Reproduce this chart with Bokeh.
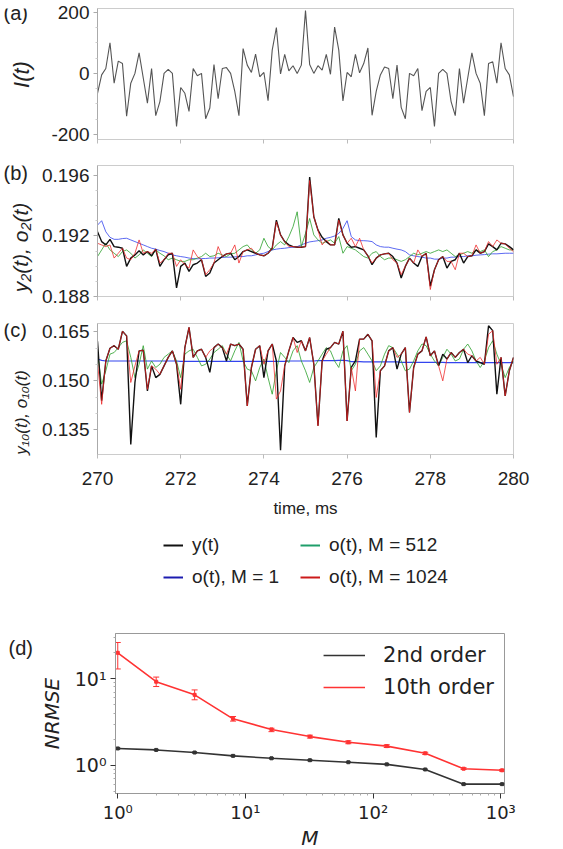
import math
from bokeh.plotting import figure
from bokeh.layouts import column, row
from bokeh.models import (ColumnDataSource, FixedTicker, NumeralTickFormatter,
                          Legend, LegendItem, Whisker, TeeHead, Range1d)
from bokeh.core.properties import value
from bokeh.embed import file_html
from bokeh.resources import INLINE

# ---------------- data ----------------
time_ms = [round(270 + 0.1 * i, 1) for i in range(101)]

I_t = [-65, -5, 16, 100, -32, 40, 32, -140, -32, 0,
       67, -15, -97, 16, -138, -92, 0, 13, 0, -173,
       -46, -65, -124, 16, -8, 0, -148, -113, 29, -83,
       16, 19, 0, -59, -138, 81, 27, 3, 63, -11,
       3, -89, 76, 150, -2, 62, 8, 25, 0, 27,
       205, 29, 0, 25, 11, 62, -3, 151, 76, -90,
       3, -11, 62, 2, 32, 83, -137, -59, -5, 21,
       16, -83, 27, -111, -148, 0, -8, 16, -122, -59,
       -46, -173, 0, 13, 0, -92, -138, 16, -97, -15,
       67, 0, -32, -138, 32, 38, -32, 100, 16, -5,
       -76]

y2 = [0.19228, 0.19163, 0.19141, 0.19178, 0.19130, 0.19126, 0.19119, 0.18999, 0.19054, 0.19075,
      0.19102, 0.19075, 0.19097, 0.19069, 0.19113, 0.18999, 0.19043, 0.19075, 0.19086, 0.18857,
      0.18999, 0.19021, 0.18966, 0.19010, 0.19021, 0.19043, 0.18933, 0.18955, 0.19021, 0.19043,
      0.19064, 0.19082, 0.19086, 0.19043, 0.19064, 0.19097, 0.19108, 0.19097, 0.19086, 0.19075,
      0.19069, 0.19086, 0.19119, 0.19305, 0.19207, 0.19163, 0.19141, 0.19130, 0.19126, 0.19126,
      0.19130, 0.19589, 0.19327, 0.19239, 0.19191, 0.19163, 0.19141, 0.19141, 0.19316, 0.19207,
      0.19152, 0.19126, 0.19130, 0.19119, 0.19108, 0.19069, 0.19010, 0.19054, 0.19075, 0.19082,
      0.19086, 0.19064, 0.19021, 0.18922, 0.18999, 0.19054, 0.19021, 0.18999, 0.19064, 0.19086,
      0.18868, 0.18977, 0.19043, 0.19064, 0.18988, 0.19032, 0.19043, 0.19086, 0.19021, 0.19064,
      0.19069, 0.19108, 0.19086, 0.19097, 0.19148, 0.19130, 0.19108, 0.19152, 0.19148, 0.19130,
      0.19108]

o2_M1024 = [0.19152, 0.19141, 0.19130, 0.19141, 0.19054, 0.19086, 0.19119, 0.19054, 0.19043, 0.19086,
            0.19174, 0.19086, 0.19097, 0.19086, 0.19113, 0.19021, 0.19043, 0.19086, 0.19086, 0.18999,
            0.19043, 0.19010, 0.18988, 0.19108, 0.19064, 0.19043, 0.18944, 0.18977, 0.19021, 0.19130,
            0.19064, 0.19082, 0.19086, 0.19141, 0.19021, 0.19097, 0.19108, 0.19119, 0.19086, 0.19075,
            0.19069, 0.19086, 0.19119, 0.19294, 0.19207, 0.19163, 0.19130, 0.19130, 0.19126, 0.19126,
            0.19130, 0.19567, 0.19327, 0.19239, 0.19141, 0.19174, 0.19141, 0.19141, 0.19305, 0.19207,
            0.19152, 0.19185, 0.19130, 0.19185, 0.19108, 0.19069, 0.19021, 0.19054, 0.19075, 0.19082,
            0.19086, 0.19043, 0.19021, 0.18944, 0.18999, 0.19054, 0.19021, 0.19108, 0.19064, 0.19086,
            0.18846, 0.18977, 0.19043, 0.19064, 0.19032, 0.19032, 0.18977, 0.19086, 0.19086, 0.19064,
            0.19069, 0.19141, 0.19086, 0.19097, 0.19163, 0.19130, 0.19174, 0.19152, 0.19148, 0.19119,
            0.19097]

o2_M512 = [0.19064, 0.19108, 0.19152, 0.19108, 0.19086, 0.19064, 0.19097, 0.19108, 0.19086, 0.19054,
           0.19075, 0.19108, 0.19086, 0.19064, 0.19108, 0.19086, 0.19069, 0.19043, 0.19054, 0.19043,
           0.19032, 0.19032, 0.19043, 0.19043, 0.19054, 0.19064, 0.19086, 0.19064, 0.19069, 0.19086,
           0.19075, 0.19064, 0.19082, 0.19086, 0.19108, 0.19130, 0.19141, 0.19108, 0.19086, 0.19108,
           0.19185, 0.19130, 0.19108, 0.19141, 0.19163, 0.19141, 0.19196, 0.19261, 0.19360, 0.19130,
           0.19217, 0.19316, 0.19207, 0.19174, 0.19152, 0.19163, 0.19174, 0.19152, 0.19196, 0.19086,
           0.19130, 0.19119, 0.19108, 0.19086, 0.19064, 0.19054, 0.19086, 0.19097, 0.19064, 0.19043,
           0.19054, 0.19054, 0.19043, 0.19032, 0.19043, 0.19064, 0.19086, 0.19075, 0.19086, 0.19097,
           0.19086, 0.19097, 0.19108, 0.19097, 0.19108, 0.19086, 0.19064, 0.19075, 0.19086, 0.19097,
           0.19086, 0.19108, 0.19097, 0.19108, 0.19064, 0.19097, 0.19108, 0.19130, 0.19119, 0.19108,
           0.19108]

o2_M1 = [0.19272, 0.19301, 0.19228, 0.19191, 0.19178, 0.19178, 0.19183, 0.19185, 0.19174, 0.19163,
         0.19152, 0.19141, 0.19130, 0.19119, 0.19113, 0.19104, 0.19097, 0.19086, 0.19075, 0.19069,
         0.19064, 0.19060, 0.19054, 0.19051, 0.19049, 0.19051, 0.19051, 0.19054, 0.19054, 0.19056,
         0.19058, 0.19060, 0.19060, 0.19062, 0.19064, 0.19064, 0.19069, 0.19069, 0.19075, 0.19082,
         0.19086, 0.19097, 0.19108, 0.19113, 0.19117, 0.19119, 0.19123, 0.19126, 0.19130, 0.19141,
         0.19152, 0.19161, 0.19165, 0.19169, 0.19174, 0.19185, 0.19191, 0.19200, 0.19217, 0.19250,
         0.19301, 0.19196, 0.19174, 0.19169, 0.19169, 0.19167, 0.19163, 0.19141, 0.19130, 0.19126,
         0.19126, 0.19119, 0.19113, 0.19108, 0.19097, 0.19075, 0.19069, 0.19064, 0.19060, 0.19054,
         0.19054, 0.19047, 0.19047, 0.19054, 0.19054, 0.19060, 0.19060, 0.19064, 0.19064, 0.19069,
         0.19069, 0.19073, 0.19075, 0.19077, 0.19080, 0.19082, 0.19082, 0.19084, 0.19086, 0.19086,
         0.19086]

y10 = [0.1621, 0.1439, 0.1561, 0.1600, 0.1608, 0.1597, 0.1652, 0.1638, 0.1305, 0.1495,
       0.1592, 0.1594, 0.1469, 0.1546, 0.1510, 0.1520, 0.1546, 0.1572, 0.1592, 0.1551,
       0.1428, 0.1602, 0.1664, 0.1572, 0.1592, 0.1597, 0.1572, 0.1526, 0.1602, 0.1613,
       0.1602, 0.1561, 0.1613, 0.1608, 0.1613, 0.1597, 0.1423, 0.1541, 0.1597, 0.1608,
       0.1510, 0.1592, 0.1613, 0.1561, 0.1287, 0.1546, 0.1592, 0.1633, 0.1618, 0.1623,
       0.1592, 0.1633, 0.1551, 0.1362, 0.1561, 0.1597, 0.1602, 0.1618, 0.1613, 0.1652,
       0.1377, 0.1541, 0.1561, 0.1628, 0.1628, 0.1643, 0.1623, 0.1326, 0.1531, 0.1546,
       0.1592, 0.1602, 0.1536, 0.1582, 0.1602, 0.1403, 0.1541, 0.1582, 0.1592, 0.1635,
       0.1577, 0.1592, 0.1546, 0.1582, 0.1567, 0.1587, 0.1572, 0.1587, 0.1597, 0.1556,
       0.1577, 0.1561, 0.1556, 0.1551, 0.1669, 0.1654, 0.1459, 0.1572, 0.1454, 0.1531,
       0.1572]

o10_M1024 = [0.1556, 0.1428, 0.1561, 0.1600, 0.1608, 0.1597, 0.1652, 0.1638, 0.1495, 0.1546,
             0.1592, 0.1594, 0.1474, 0.1546, 0.1536, 0.1520, 0.1546, 0.1572, 0.1592, 0.1551,
             0.1474, 0.1602, 0.1664, 0.1572, 0.1592, 0.1597, 0.1572, 0.1592, 0.1602, 0.1613,
             0.1602, 0.1582, 0.1613, 0.1608, 0.1613, 0.1597, 0.1423, 0.1541, 0.1597, 0.1608,
             0.1551, 0.1592, 0.1613, 0.1444, 0.1469, 0.1546, 0.1592, 0.1633, 0.1587, 0.1623,
             0.1592, 0.1633, 0.1551, 0.1362, 0.1561, 0.1582, 0.1602, 0.1618, 0.1613, 0.1652,
             0.1377, 0.1541, 0.1469, 0.1628, 0.1628, 0.1643, 0.1623, 0.1449, 0.1531, 0.1546,
             0.1592, 0.1602, 0.1572, 0.1582, 0.1602, 0.1403, 0.1541, 0.1582, 0.1592, 0.1635,
             0.1577, 0.1592, 0.1546, 0.1500, 0.1567, 0.1587, 0.1572, 0.1587, 0.1597, 0.1582,
             0.1577, 0.1561, 0.1572, 0.1551, 0.1643, 0.1654, 0.1551, 0.1572, 0.1454, 0.1531,
             0.1572]

o10_M512 = [0.1582, 0.1490, 0.1531, 0.1582, 0.1587, 0.1602, 0.1618, 0.1623, 0.1572, 0.1510,
            0.1551, 0.1608, 0.1536, 0.1561, 0.1541, 0.1551, 0.1572, 0.1582, 0.1592, 0.1561,
            0.1510, 0.1582, 0.1592, 0.1597, 0.1572, 0.1546, 0.1551, 0.1567, 0.1587, 0.1597,
            0.1608, 0.1582, 0.1561, 0.1592, 0.1618, 0.1561, 0.1536, 0.1531, 0.1500, 0.1541,
            0.1567, 0.1510, 0.1459, 0.1531, 0.1587, 0.1572, 0.1556, 0.1592, 0.1608, 0.1561,
            0.1531, 0.1495, 0.1541, 0.1561, 0.1582, 0.1602, 0.1592, 0.1561, 0.1541, 0.1592,
            0.1608, 0.1531, 0.1551, 0.1592, 0.1602, 0.1582, 0.1561, 0.1531, 0.1546, 0.1582,
            0.1608, 0.1602, 0.1582, 0.1561, 0.1531, 0.1536, 0.1561, 0.1592, 0.1613, 0.1608,
            0.1582, 0.1561, 0.1546, 0.1572, 0.1597, 0.1582, 0.1561, 0.1567, 0.1597, 0.1613,
            0.1592, 0.1561, 0.1541, 0.1561, 0.1602, 0.1623, 0.1582, 0.1551, 0.1510, 0.1541,
            0.1561]

o10_M1 = [0.1567, 0.1563, 0.1561, 0.1561, 0.1561, 0.1561, 0.1561, 0.1561, 0.1561, 0.1561,
          0.1561, 0.1561, 0.1561, 0.1561, 0.1561, 0.1561, 0.1561, 0.1561, 0.1561, 0.1561,
          0.1560, 0.1560, 0.1560, 0.1560, 0.1560, 0.1560, 0.1560, 0.1560, 0.1560, 0.1560,
          0.1560, 0.1560, 0.1560, 0.1560, 0.1560, 0.1560, 0.1560, 0.1560, 0.1560, 0.1560,
          0.1560, 0.1560, 0.1560, 0.1560, 0.1560, 0.1560, 0.1561, 0.1561, 0.1561, 0.1561,
          0.1561, 0.1561, 0.1561, 0.1562, 0.1562, 0.1562, 0.1562, 0.1562, 0.1563, 0.1563,
          0.1562, 0.1559, 0.1559, 0.1559, 0.1558, 0.1558, 0.1558, 0.1558, 0.1558, 0.1558,
          0.1558, 0.1558, 0.1558, 0.1557, 0.1557, 0.1557, 0.1557, 0.1557, 0.1557, 0.1557,
          0.1557, 0.1557, 0.1557, 0.1557, 0.1556, 0.1556, 0.1556, 0.1556, 0.1556, 0.1556,
          0.1556, 0.1556, 0.1556, 0.1556, 0.1556, 0.1556, 0.1556, 0.1556, 0.1556, 0.1556,
          0.1556]

panel_letters = ["(a)", "(b)", "(c)", "(d)"]
ylabels = ["I(t)", "y\u2082(t), o\u2082(t)", "y\u2081\u2080(t), o\u2081\u2080(t)"]
legend_labels = ["y(t)", "o(t), M = 1", "o(t), M = 512", "o(t), M = 1024"]

M_vals = [1, 2, 4, 8, 16, 32, 64, 128, 256, 512, 1024]
nrmse_2nd = [1.57, 1.51, 1.41, 1.29, 1.21, 1.15, 1.09, 1.03, 0.90, 0.61, 0.61]
nrmse_2nd_lo = [1.54, 1.49, 1.39, 1.27, 1.19, 1.13, 1.08, 1.02, 0.89, 0.60, 0.60]
nrmse_2nd_hi = [1.60, 1.53, 1.43, 1.31, 1.23, 1.17, 1.10, 1.04, 0.91, 0.62, 0.62]
nrmse_10th = [19.8, 9.2, 6.5, 3.44, 2.60, 2.15, 1.85, 1.67, 1.38, 0.918, 0.88]
nrmse_10th_lo = [12.9, 8.1, 5.7, 3.24, 2.45, 2.07, 1.78, 1.61, 1.34, 0.90, 0.86]
nrmse_10th_hi = [26.0, 10.4, 7.4, 3.66, 2.68, 2.23, 1.92, 1.73, 1.42, 0.94, 0.90]

# ---------------- styles ----------------
FONT = "Liberation Sans"
TXT = "#222222"
C_BLACK = "#111111"
C_BLUE = "#3344ee"
C_GREEN = "#2ca02c"
C_RED = "#ee2222"
LAB_W = 38


def label_strip(H, letter, letter_xy, ylabel=None, ylabel_xy=None, ysize="20px", w=LAB_W):
    """narrow blank figure, left of a panel, holding the panel letter and y label"""
    f = figure(frame_width=w, frame_height=H, x_range=Range1d(0, w), y_range=Range1d(H, 0),
               min_border=0, x_axis_location=None, y_axis_location=None,
               output_backend="svg", toolbar_location=None)
    f.grid.visible = False
    f.outline_line_color = None
    f.text(x=[letter_xy[0]], y=[letter_xy[1]], text=[letter], text_font=value(FONT),
           text_font_size=value("20px"), text_color=TXT, text_baseline="middle", text_align="left")
    if ylabel:
        f.text(x=[ylabel_xy[0]], y=[ylabel_xy[1]], text=[ylabel], angle=math.pi / 2,
               text_font=value(FONT), text_font_size=value(ysize), text_font_style="italic",
               text_color=TXT, text_baseline="middle", text_align="center")
    return f


def ts_figure(yr, top, bottom):
    p = figure(frame_width=416, frame_height=131,
               x_range=Range1d(270, 280), y_range=Range1d(*yr),
               min_border_left=97 - LAB_W, min_border_right=50,
               min_border_top=top, min_border_bottom=bottom,
               output_backend="svg", toolbar_location=None)
    p.grid.visible = False
    p.outline_line_color = "#cccccc"
    p.xaxis.ticker = FixedTicker(ticks=[270, 272, 274, 276, 278, 280])
    p.xaxis.axis_line_color = "#cccccc"
    p.xaxis.major_tick_line_color = "#bbbbbb"
    p.xaxis.major_tick_out = 4
    p.xaxis.major_tick_in = 0
    p.xaxis.minor_tick_line_color = None
    p.yaxis.axis_line_color = "#aaaaaa"
    p.yaxis.major_tick_line_color = "#aaaaaa"
    p.yaxis.minor_tick_line_color = "#cccccc"
    p.yaxis.major_tick_out = 4
    p.yaxis.major_tick_in = 0
    p.yaxis.minor_tick_out = 2
    p.yaxis.minor_tick_in = 0
    p.yaxis.major_label_standoff = 4
    p.yaxis.major_label_text_font = FONT
    p.yaxis.major_label_text_font_size = "19px"
    p.yaxis.major_label_text_color = TXT
    return p


blank = {v: "" for v in [270, 272, 274, 276, 278, 280]}

# ---- panel (a)
pa = ts_figure((-216, 212), 8, 13)
pa.line(time_ms, I_t, line_color="#555555", line_width=1.1)
pa.yaxis.ticker = FixedTicker(ticks=[-200, 0, 200], minor_ticks=[-150, -100, -50, 50, 100, 150])
pa.yaxis.major_label_overrides = {-200: "-200", 0: "0", 200: "200"}
pa.xaxis.major_label_overrides = blank
la = label_strip(152, panel_letters[0], (3, 4), ylabels[0], (21, 66), ysize="22px")

# ---- panel (b)
pb = ts_figure((0.188, 0.19666), 13, 14)
pb.line(time_ms, o2_M1, line_color=C_BLUE, line_width=1, alpha=0.8)
pb.line(time_ms, o2_M512, line_color=C_GREEN, line_width=1, alpha=0.8)
pb.line(time_ms, y2, line_color=C_BLACK, line_width=1.4)
pb.line(time_ms, o2_M1024, line_color=C_RED, line_width=1, alpha=0.75)
pb.yaxis.ticker = FixedTicker(ticks=[0.188, 0.192, 0.196], minor_ticks=[0.189, 0.190, 0.191, 0.193, 0.194, 0.195])
pb.yaxis.formatter = NumeralTickFormatter(format="0.000")
pb.xaxis.major_label_overrides = blank
lb = label_strip(158, panel_letters[1], (3, 7), ylabels[1], (20, 82), ysize="21px")

# ---- panel (c)
pc = ts_figure((0.1274, 0.1676), 13, 74)
pc.line(time_ms, o10_M1, line_color=C_BLUE, line_width=1.2)
pc.line(time_ms, o10_M512, line_color=C_GREEN, line_width=1, alpha=0.8)
pc.line(time_ms, y10, line_color=C_BLACK, line_width=1.4)
pc.line(time_ms, o10_M1024, line_color=C_RED, line_width=1, alpha=0.75)
pc.yaxis.ticker = FixedTicker(ticks=[0.135, 0.150, 0.165], minor_ticks=[0.140, 0.145, 0.155, 0.160])
pc.yaxis.formatter = NumeralTickFormatter(format="0.000")
pc.xaxis.major_label_text_font = FONT
pc.xaxis.major_label_text_font_size = "19px"
pc.xaxis.major_label_text_color = TXT
pc.xaxis.major_label_standoff = 13
pc.xaxis.axis_label = "time, ms"
pc.xaxis.axis_label_text_font = FONT
pc.xaxis.axis_label_text_font_size = "17px"
pc.xaxis.axis_label_text_font_style = "normal"
pc.xaxis.axis_label_text_color = TXT
pc.xaxis.axis_label_standoff = 11
lc = label_strip(218, panel_letters[2], (3, 6), ylabels[2], (21, 89), ysize="17px")

# ---- legend strip for (b)/(c)
pl = figure(frame_width=416, frame_height=82, x_range=Range1d(0, 1), y_range=Range1d(0, 1),
            min_border_left=97, min_border_right=50, min_border_top=0, min_border_bottom=0,
            x_axis_location=None, y_axis_location=None,
            output_backend="svg", toolbar_location=None)
pl.grid.visible = False
pl.outline_line_color = None
leg_colors = ["#111111", "#1c1cb0", "#1f9e6a", "#cc1a1a"]
leg_r = [pl.line(x=[2, 3], y=[2, 3], line_color=c, line_width=2) for c in leg_colors]
leg_common = dict(border_line_color=None, background_fill_alpha=0, label_text_font=FONT,
                  label_text_font_size="19px", label_text_color=TXT,
                  glyph_width=20, glyph_height=20, label_height=20, label_standoff=9,
                  spacing=10, padding=0, margin=0)
pl.add_layout(Legend(items=[LegendItem(label=legend_labels[0], renderers=[leg_r[0]]),
                            LegendItem(label=legend_labels[1], renderers=[leg_r[1]])],
                     location=(66, 22), **leg_common))
pl.add_layout(Legend(items=[LegendItem(label=legend_labels[2], renderers=[leg_r[2]]),
                            LegendItem(label=legend_labels[3], renderers=[leg_r[3]])],
                     location=(203, 22), **leg_common))

# ---- panel (d)
DFONT = "DejaVu Sans"
LD_W = 35
pd = figure(frame_width=389, frame_height=160, x_axis_type="log", y_axis_type="log",
            x_range=Range1d(0.96, 1070), y_range=Range1d(0.476, 33),
            min_border_left=115 - LD_W, min_border_right=59, min_border_top=23, min_border_bottom=56,
            output_backend="svg", toolbar_location=None)
pd.grid.visible = False
pd.outline_line_color = "#999999"
src2 = ColumnDataSource(dict(M=M_vals, v=nrmse_2nd, lo=nrmse_2nd_lo, hi=nrmse_2nd_hi))
src10 = ColumnDataSource(dict(M=M_vals, v=nrmse_10th, lo=nrmse_10th_lo, hi=nrmse_10th_hi))
l2 = pd.line("M", "v", source=src2, line_color="#333333", line_width=1.6)
l10 = pd.line("M", "v", source=src10, line_color="#ff3333", line_width=1.6)
pd.scatter("M", "v", source=src2, size=3, color="#333333", marker="square")
pd.scatter("M", "v", source=src10, size=3, color="#ff3333", marker="square")
pd.add_layout(Whisker(source=src2, base="M", lower="lo", upper="hi", line_color="#333333",
                      upper_head=TeeHead(size=5, line_color="#333333"),
                      lower_head=TeeHead(size=5, line_color="#333333")))
pd.add_layout(Whisker(source=src10, base="M", lower="lo", upper="hi", line_color="#ff3333",
                      upper_head=TeeHead(size=6, line_color="#ff3333"),
                      lower_head=TeeHead(size=6, line_color="#ff3333")))
pd.xaxis.ticker = FixedTicker(ticks=[1, 10, 100, 1000],
                              minor_ticks=[2, 3, 4, 5, 6, 7, 8, 9, 20, 30, 40, 50, 60, 70, 80, 90,
                                           200, 300, 400, 500, 600, 700, 800, 900])
pd.xaxis.major_label_overrides = {1: "10\u2070", 10: "10\u00b9", 100: "10\u00b2", 1000: "10\u00b3"}
pd.yaxis.ticker = FixedTicker(ticks=[1, 10],
                              minor_ticks=[0.5, 0.6, 0.7, 0.8, 0.9, 2, 3, 4, 5, 6, 7, 8, 9, 20, 30])
pd.yaxis.major_label_overrides = {1: "10\u2070", 10: "10\u00b9"}
for ax in (pd.xaxis, pd.yaxis):
    ax.axis_line_color = "#999999"
    ax.major_tick_line_color = "#333333"
    ax.minor_tick_line_color = "#aaaaaa"
    ax.major_tick_out = 5
    ax.major_tick_in = 0
    ax.minor_tick_out = 2
    ax.minor_tick_in = 0
    ax.major_label_text_font = DFONT
    ax.major_label_text_font_size = "19px"
    ax.major_label_text_color = TXT
    ax.axis_label_text_font = DFONT
    ax.axis_label_text_font_size = "20px"
    ax.axis_label_text_font_style = "italic"
    ax.axis_label_text_color = TXT
pd.xaxis.major_label_text_font_size = "18px"
pd.xaxis.axis_label = "M"
pd.xaxis.major_label_standoff = 3
pd.xaxis.axis_label_standoff = 0
pd.yaxis.axis_label = "NRMSE"
pd.yaxis.axis_label_standoff = 8
pd.yaxis.major_label_standoff = 4
legd = Legend(items=[LegendItem(label="2nd order", renderers=[l2]),
                     LegendItem(label="10th order", renderers=[l10])],
              location="top_right", border_line_color=None, background_fill_alpha=0,
              label_text_font=DFONT, label_text_font_size="21px", label_text_color=TXT,
              glyph_width=42, label_standoff=18, spacing=8, padding=6, margin=10)
pd.add_layout(legd)
ld = label_strip(239, panel_letters[3], (8, 14), w=LD_W)

layout = column(row(la, pa), row(lb, pb), row(lc, pc), pl, row(ld, pd), spacing=0)
open("out.html", "w").write(file_html(layout, INLINE))
